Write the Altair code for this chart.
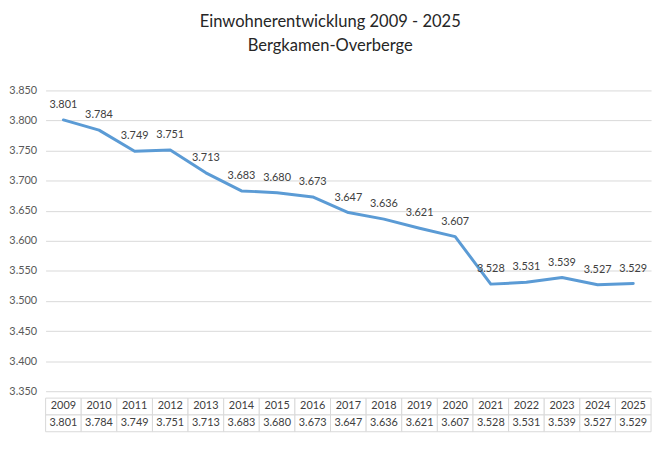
import altair as alt
import pandas as pd

years = [2009, 2010, 2011, 2012, 2013, 2014, 2015, 2016, 2017,
         2018, 2019, 2020, 2021, 2022, 2023, 2024, 2025]
values = [3801, 3784, 3749, 3751, 3713, 3683, 3680, 3673, 3647,
          3636, 3621, 3607, 3528, 3531, 3539, 3527, 3529]
y_ticks = [3350, 3400, 3450, 3500, 3550, 3600, 3650, 3700, 3750, 3800, 3850]
title_lines = ["Einwohnerentwicklung 2009 - 2025", "Bergkamen-Overberge"]


def de(v):
    return f"{v:,}".replace(",", ".")


df = pd.DataFrame({"year": [str(y) for y in years], "value": values,
                   "label": [de(v) for v in values]})

FONT = "Lato"
LINE_COLOR = "#5B9BD5"
GRID = "#D9D9D9"
TXT = "#404040"

xs = alt.X("year:O", axis=None, sort=[str(y) for y in years])
ys = alt.Y("value:Q", scale=alt.Scale(domain=[3350, 3850], nice=False, zero=False),
           axis=alt.Axis(values=y_ticks, title=None, domain=False, ticks=False,
                         labelOverlap=False, tickCount=11,
                         labelExpr="replace(format(datum.value, ',d'), ',', '.')",
                         labelFont=FONT, labelFontSize=11, labelColor="#595959",
                         labelPadding=9, gridColor=GRID, gridWidth=1))

base = alt.Chart(df)
line = base.mark_line(color=LINE_COLOR, strokeWidth=3, strokeCap="round",
                      strokeJoin="round").encode(x=xs, y=ys)
labels = base.mark_text(dy=-15, font=FONT, fontSize=11, color=TXT).encode(
    x=xs, y=ys, text="label:N")

top = alt.layer(line, labels).properties(width=612, height=304)

rows = []
for y, v in zip(years, values):
    rows.append({"year": str(y), "row": "a", "txt": str(y)})
    rows.append({"year": str(y), "row": "b", "txt": de(v)})
tdf = pd.DataFrame(rows)

tx = alt.X("year:O", axis=None, sort=[str(y) for y in years],
           scale=alt.Scale(type="band", paddingInner=0, paddingOuter=0))
ty = alt.Y("row:O", axis=None, scale=alt.Scale(type="band", paddingInner=0, paddingOuter=0))
tbase = alt.Chart(tdf)
cells = tbase.mark_rect(fill="white", stroke=GRID, strokeWidth=1).encode(x=tx, y=ty)
ctext = tbase.mark_text(font=FONT, fontSize=11, color=TXT, baseline="middle").encode(
    x=tx, y=ty, text="txt:N")
table = alt.layer(cells, ctext).properties(width=612, height=34)

chart = alt.vconcat(top, table, spacing=1).properties(
    title=alt.TitleParams(text=title_lines, font=FONT, fontSize=16.7, fontWeight="normal",
                          color="#262626", lineHeight=24, anchor="middle", offset=30),
    padding={"left": 0, "top": 4, "right": 5, "bottom": 5},
    background="white",
).configure_view(stroke=None)

chart.save("out.html", embed_options={"renderer": "svg", "actions": False})
